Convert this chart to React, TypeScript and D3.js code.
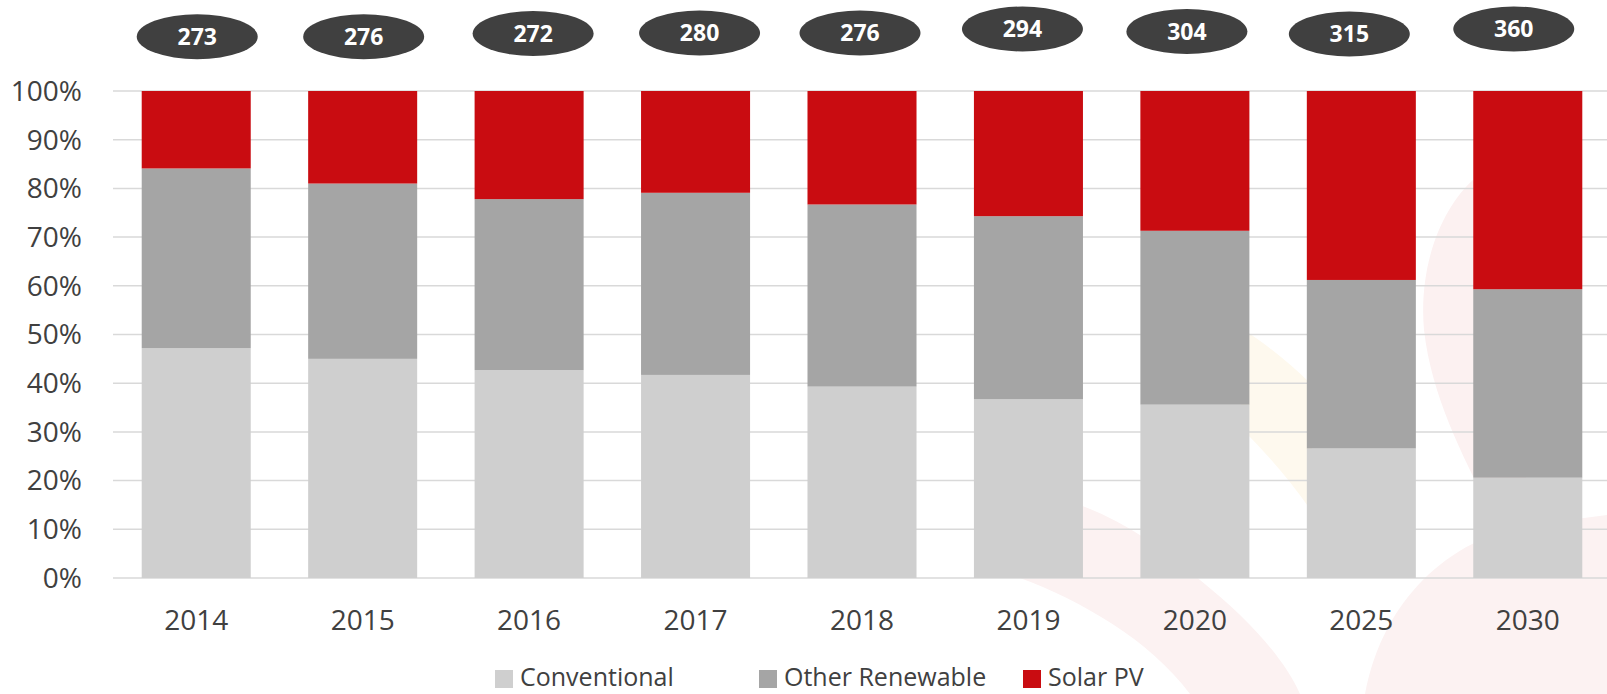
import React from "react";
import * as d3 from "d3";

const years = ["2014", "2015", "2016", "2017", "2018", "2019", "2020", "2025", "2030"];
const conventional = [0.472, 0.45, 0.427, 0.417, 0.393, 0.367, 0.356, 0.266, 0.206];
const otherRenewable = [0.369, 0.36, 0.351, 0.374, 0.374, 0.376, 0.357, 0.346, 0.387];
const solarPV = years.map((_, i) => 1 - conventional[i] - otherRenewable[i]);
const totals = [273, 276, 272, 280, 276, 294, 304, 315, 360];
const yTicks = [0, 0.1, 0.2, 0.3, 0.4, 0.5, 0.6, 0.7, 0.8, 0.9, 1.0];
const seriesNames = ["Conventional", "Other Renewable", "Solar PV"];

// layout constants (hand-placed bubble offsets)
const bubbleDx = [1, 1, 4, 4, -2, -6, -8, -12, -14];
const bubbleY = [36.7, 36.7, 33.5, 33, 33, 29, 31.5, 34, 29];

const COLORS = ["#cfcfcf", "#a5a5a5", "#c90c11"];
const W = 1607;
const H = 694;
const FONT = "'Open Sans', 'Noto Sans', sans-serif";

export default function App() {
  const x = d3.scaleBand<string>().domain(years).range([113, 1611]).paddingInner(0.345).paddingOuter(0.1725);
  const y = d3.scaleLinear().domain([0, 1]).range([578, 91]);

  const rows = years.map((yr, i) => ({
    year: yr,
    Conventional: conventional[i],
    "Other Renewable": otherRenewable[i],
    "Solar PV": solarPV[i],
  }));
  const stack = d3.stack<any>().keys(seriesNames)(rows);
  const fmt = d3.format(".0%");

  const legendItems = [
    { name: seriesNames[0], x: 495 },
    { name: seriesNames[1], x: 759 },
    { name: seriesNames[2], x: 1023 },
  ];

  return (
    <svg width={W} height={H} style={{ position: "absolute", left: 0, top: 0, display: "block", background: "#fff" }}>
      {/* faint watermark */}
      <g>
        <path d="M1473,180 C1445,205 1418,260 1424,330 C1432,400 1465,460 1495,520 L1530,520 C1520,400 1500,250 1473,180 Z" fill="#fcf1f1" />
        <path d="M1365,694 C1380,610 1440,540 1530,525 L1607,515 L1607,694 Z" fill="#fcf2f2" />
        <path d="M1230,322 C1250,332 1285,358 1312,385 L1312,512 C1290,480 1265,452 1245,432 Z" fill="#fef9ee" />
        <path d="M1080,505 C1120,520 1160,545 1200,580 C1250,620 1285,660 1300,694 L1190,694 C1150,640 1080,600 1020,578 Z" fill="#fcf2f2" />
      </g>

      {/* gridlines */}
      <g>
        {yTicks.map((t) => (
          <line key={t} x1={113} x2={W} y1={y(t)} y2={y(t)} stroke="#d9d9d9" strokeWidth={1.5} />
        ))}
      </g>

      {/* bars */}
      <g>
        {stack.map((layer, si) => (
          <g key={layer.key} fill={COLORS[si]}>
            {layer.map((d, i) => (
              <rect
                key={years[i]}
                x={x(years[i])}
                width={x.bandwidth()}
                y={y(d[1])}
                height={y(d[0]) - y(d[1])}
              />
            ))}
          </g>
        ))}
      </g>

      {/* y labels */}
      <g fontFamily={FONT} fontSize={28} fill="#404040" textAnchor="end">
        {yTicks.map((t) => (
          <text key={t} x={82} y={y(t)} dy="0.35em">
            {fmt(t)}
          </text>
        ))}
      </g>

      {/* x labels */}
      <g fontFamily={FONT} fontSize={28} fill="#404040" textAnchor="middle">
        {years.map((yr) => (
          <text key={yr} x={(x(yr) as number) + x.bandwidth() / 2} y={630}>
            {yr}
          </text>
        ))}
      </g>

      {/* total bubbles */}
      <g>
        {years.map((yr, i) => {
          const cx = (x(yr) as number) + x.bandwidth() / 2 + bubbleDx[i];
          return (
            <g key={yr}>
              <ellipse cx={cx} cy={bubbleY[i]} rx={60.5} ry={22.5} fill="#404040" />
              <text
                x={cx}
                y={bubbleY[i]}
                dy="0.36em"
                textAnchor="middle"
                fontFamily={FONT}
                fontWeight={700}
                fontSize={23}
                fill="#ffffff"
              >
                {totals[i]}
              </text>
            </g>
          );
        })}
      </g>

      {/* legend */}
      <g fontFamily={FONT} fontSize={25} fill="#404040">
        {legendItems.map((it, i) => (
          <g key={it.name}>
            <rect x={it.x} y={670} width={18} height={18} fill={COLORS[i]} />
            <text x={it.x + 25} y={686}>
              {it.name}
            </text>
          </g>
        ))}
      </g>
    </svg>
  );
}
